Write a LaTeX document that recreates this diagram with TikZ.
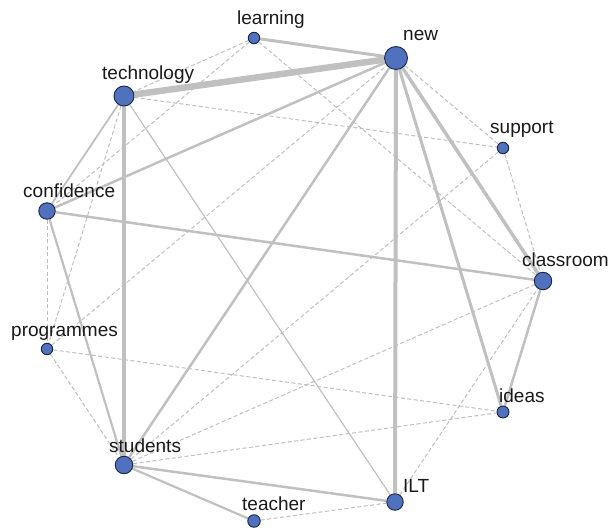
\documentclass[tikz,border=0pt]{standalone}
\usepackage{fontspec}
\setmainfont{Liberation Sans}
\usetikzlibrary{backgrounds}
\definecolor{nodefill}{RGB}{80,113,190}
\definecolor{nodeline}{RGB}{28,38,64}
\definecolor{edgecol}{RGB}{192,192,192}
\definecolor{weakcol}{RGB}{190,190,190}
\definecolor{labelcol}{RGB}{25,25,25}
\begin{document}
\begin{tikzpicture}[x=1pt,y=-1pt,
  vert/.style={circle,draw=nodeline,fill=nodefill,line width=0.9pt,inner sep=0pt,minimum size=#1},
  lbl/.style={inner sep=0pt,anchor=base west,font=\fontsize{19}{22}\selectfont,text=labelcol},
  tie/.style={draw=edgecol,line width=#1},
  weak/.style={draw=weakcol,line width=1pt,dash pattern=on 4pt off 2.5pt},
]
\useasboundingbox (0,0) rectangle (613,529);

% vertices
\node[vert=11.5] (learning)   at (254,38)  {};
\node[vert=23]   (new)        at (396,58)  {};
\node[vert=20]   (technology) at (124,96)  {};
\node[vert=11.5] (support)    at (503,148) {};
\node[vert=16.5] (confidence) at (47,211)  {};
\node[vert=17.5] (classroom)  at (543,281) {};
\node[vert=11.5] (programmes) at (47,349)  {};
\node[vert=12]   (ideas)      at (503,412) {};
\node[vert=17.5] (students)   at (124,465) {};
\node[vert=16.5] (ILT)        at (395,502) {};
\node[vert=12.5] (teacher)    at (254,521) {};

% labels
\node[lbl] (t-learning)   at (237,25)  {learning};
\node[lbl] (t-new)        at (403,41)  {new};
\node[lbl] (t-technology) at (102,80)  {technology};
\node[lbl] (t-support)    at (490,134) {support};
\node[lbl] (t-confidence) at (23,198)  {confidence};
\node[lbl] (t-classroom)  at (522,267) {classroom};
\node[lbl] (t-programmes) at (11,336)  {programmes};
\node[lbl] (t-ideas)      at (499,402) {ideas};
\node[lbl] (t-students)   at (109,452) {students};
\node[lbl] (t-ILT)        at (403,492) {ILT};
\node[lbl] (t-teacher)    at (242,510) {teacher};

\begin{scope}[on background layer]
% weighted links
\draw[tie=6.5] (new) -- (technology);
\draw[tie=4]   (technology) -- (students);
\draw[tie=4]   (new) -- (ILT);
\draw[tie=3.5] (new) -- (classroom);
\draw[tie=3]   (new) -- (ideas);
\draw[tie=3]   (new) -- (learning);
\draw[tie=2.5] (new) -- (students);
\draw[tie=2.5] (new) -- (confidence);
\draw[tie=2.5] (confidence) -- (classroom);
\draw[tie=2.2] (confidence) -- (students);
\draw[tie=2.5] (students) -- (ILT);
\draw[tie=2.2] (students) -- (teacher);
\draw[tie=2.5] (classroom) -- (ideas);
\draw[tie=1.8] (technology) -- (confidence);
\draw[tie=1.2] (technology) -- (ILT);
% weak links
\draw[weak] (learning) -- (classroom);
\draw[weak] (learning) -- (technology);
\draw[weak] (learning) -- (confidence);
\draw[weak] (technology) -- (support);
\draw[weak] (technology) -- (programmes);
\draw[weak] (confidence) -- (programmes);
\draw[weak] (programmes) -- (new);
\draw[weak] (programmes) -- (ideas);
\draw[weak] (programmes) -- (students);
\draw[weak] (students) -- (support);
\draw[weak] (students) -- (classroom);
\draw[weak] (students) -- (ideas);
\draw[weak] (teacher) -- (ILT);
\draw[weak] (ILT) -- (classroom);
\draw[weak] (new) -- (support);
\draw[weak] (support) -- (classroom);
\end{scope}
\end{tikzpicture}
\end{document}
